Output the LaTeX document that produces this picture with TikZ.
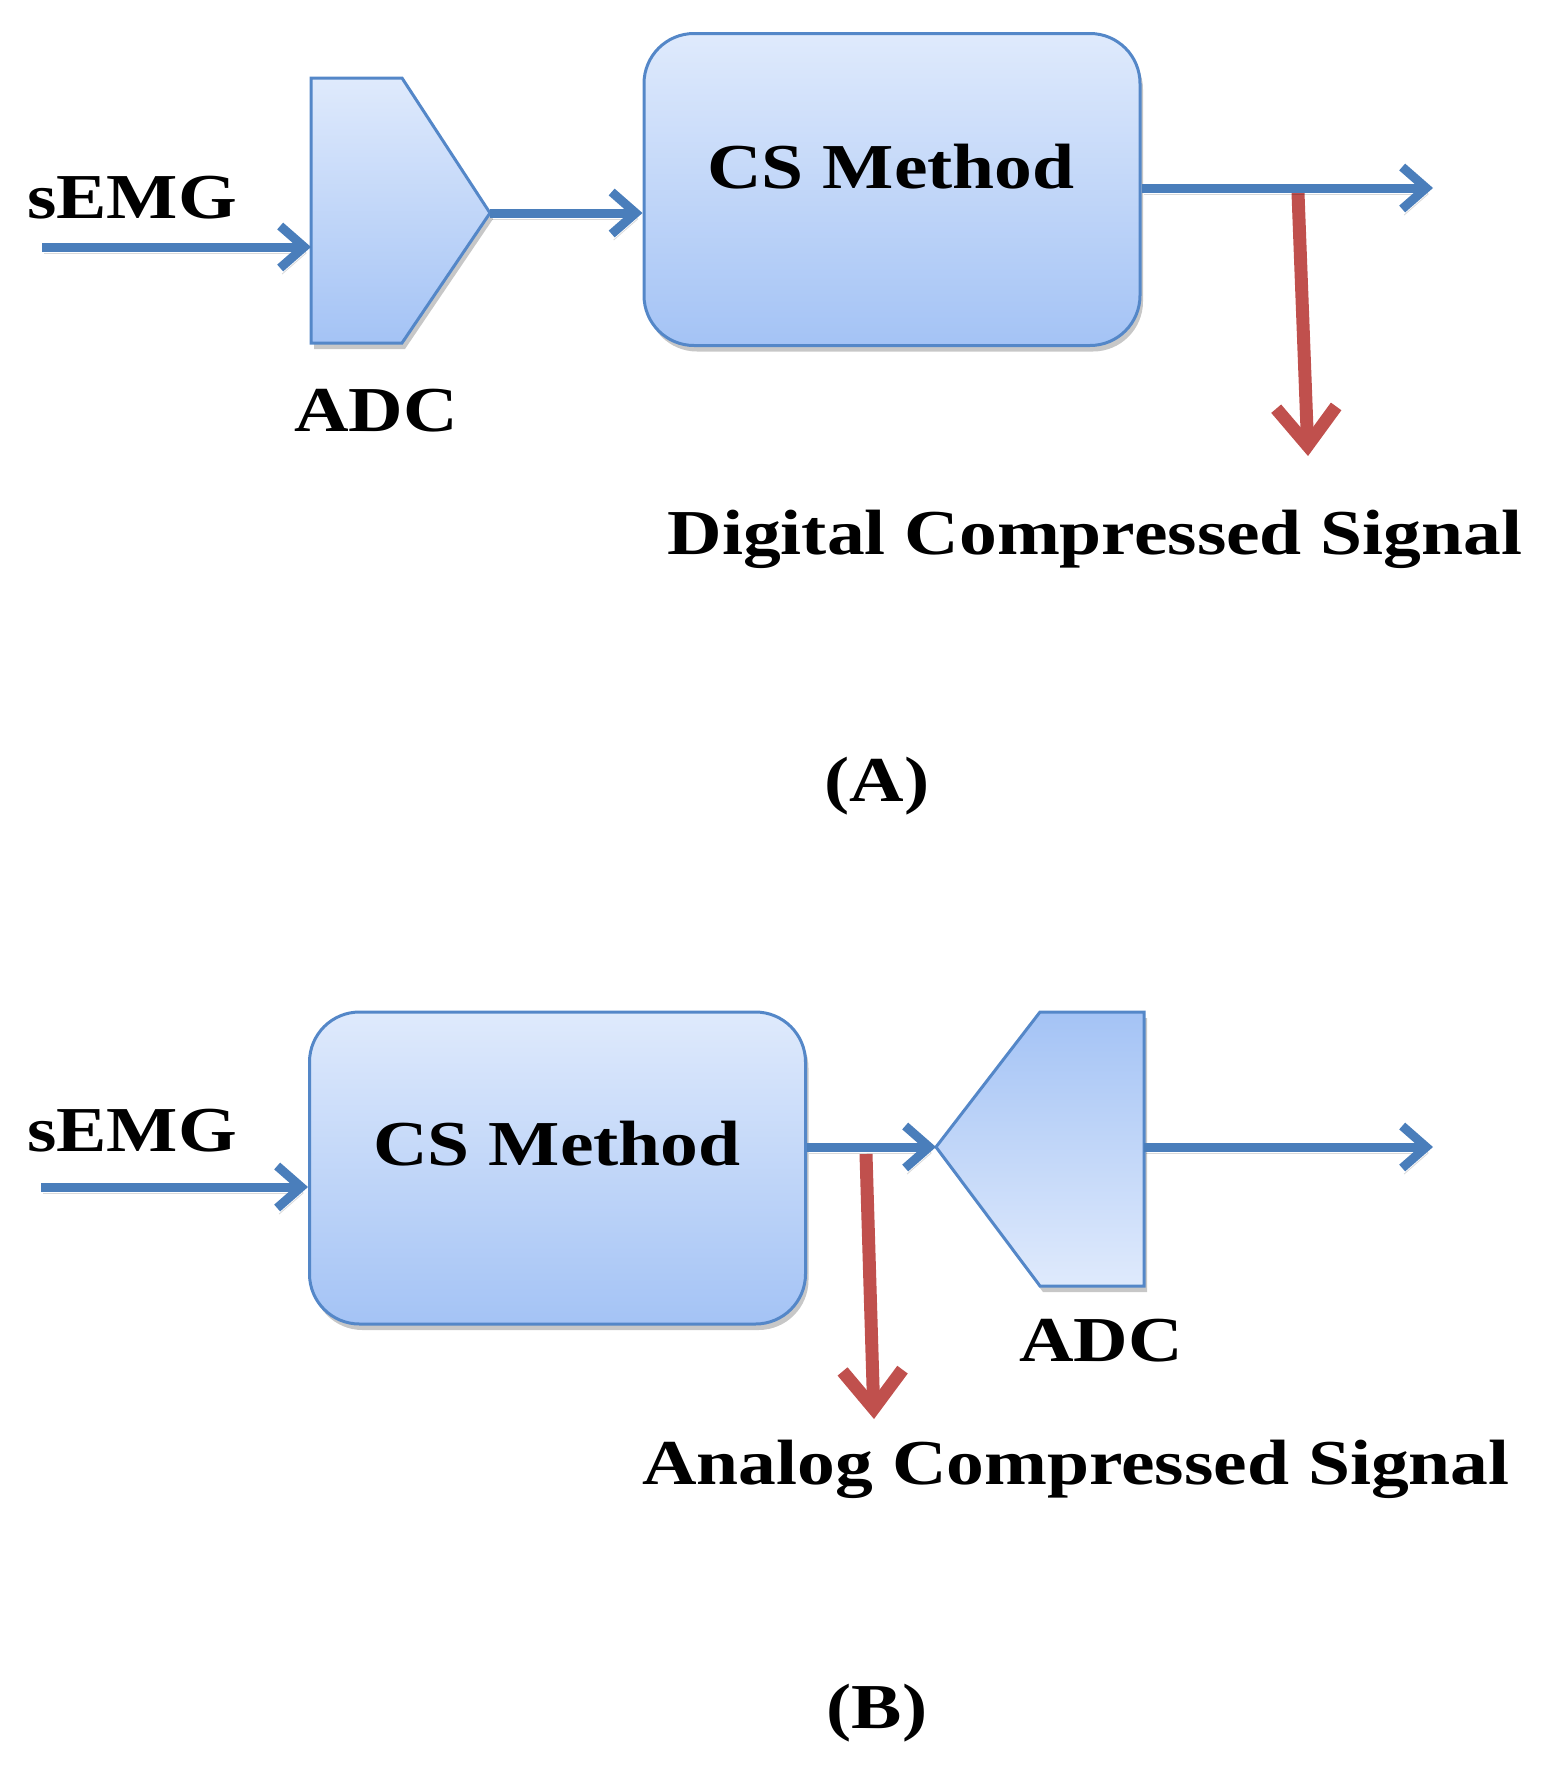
\documentclass[tikz,border=0pt]{standalone}
\usepackage{fontspec}
\setmainfont{Liberation Serif}[FakeStretch=1.18]
\usetikzlibrary{arrows.meta,shadows}
\definecolor{lineblue}{RGB}{74,126,187}
\definecolor{boxedge}{RGB}{84,135,200}
\definecolor{filltop}{RGB}{223,234,252}
\definecolor{fillbot}{RGB}{164,195,245}
\definecolor{sigred}{RGB}{192,80,77}
\begin{document}
\begin{tikzpicture}[x=0.5pt,y=-0.5pt,
  lbl/.style={font=\fontsize{32}{38}\selectfont\bfseries, inner sep=0pt, anchor=base},
  softshadow/.style={drop shadow={shadow xshift=1.5pt, shadow yshift=-3pt, opacity=0.22, fill=black}},
  csbox/.style={draw=boxedge, line width=1.5pt, rounded corners=25pt,
    top color=filltop, bottom color=fillbot, minimum width=248pt, minimum height=156pt,
    inner sep=0pt, softshadow},
  adcdown/.style={draw=boxedge, line width=1.5pt, top color=filltop, bottom color=fillbot, softshadow},
  adcup/.style={draw=boxedge, line width=1.5pt, top color=fillbot, bottom color=filltop, softshadow},
  lineshadow/.style={preaction={draw=black, opacity=0.15, transform canvas={xshift=1pt,yshift=-3pt}}},
  barrow/.style={draw=lineblue, line width=4.5pt, -{Straight Barb[length=12pt,width=21pt]}, lineshadow},
  rarrow/.style={draw=sigred, line width=6.5pt, -{Straight Barb[length=19pt,width=30pt]}, lineshadow},
]
\useasboundingbox (0,0) rectangle (1555,1768);

% ---------------- (A) ----------------
\node[lbl] (semgA) at (132,218) {sEMG};
\path[adcdown] (311,78) -- (402,78) -- (490,213) -- (402,343) -- (311,343) -- cycle;
\coordinate (adcAin) at (311,247);
\coordinate (adcAout) at (490,213);
\node[lbl] (adcAlbl) at (376,431) {ADC};
\node[csbox] (csA) at (892,189.5) {};
\node[lbl] (csAlbl) at (891,188) {CS Method};
\node[lbl] (digA) at (1095,554) {Digital Compressed Signal};
\node[lbl] (capA) at (877,801) {(A)};

\coordinate (srcA) at (42,247);
\coordinate (outA) at (1433,188);
\coordinate (tapA) at (1298,193);
\coordinate (tipA) at (1308,456);
\draw[rarrow] (tapA) -- (tipA);
\draw[barrow] (srcA) -- (adcAin);
\draw[barrow] (adcAout) -- (adcAout -| csA.west);
\draw[barrow] (csA.east |- outA) -- (outA);

% ---------------- (B) ----------------
\node[lbl] (semgB) at (132,1151) {sEMG};
\node[csbox] (csB) at (557.5,1168) {};
\node[lbl] (csBlbl) at (557,1165) {CS Method};
\path[adcup] (1144,1012) -- (1040,1012) -- (936,1147) -- (1040,1286) -- (1144,1286) -- cycle;
\coordinate (adcBin) at (936,1147);
\coordinate (adcBout) at (1144,1147);
\node[lbl] (adcBlbl) at (1101,1361) {ADC};
\node[lbl] (anaB) at (1076,1484) {Analog Compressed Signal};
\node[lbl] (capB) at (877,1728) {(B)};

\coordinate (srcB) at (41,1187);
\coordinate (outB) at (1433,1147);
\coordinate (tapB) at (866,1154);
\coordinate (tipB) at (874,1419);
\draw[rarrow] (tapB) -- (tipB);
\draw[barrow] (srcB) -- (srcB -| csB.west);
\draw[barrow] (csB.east |- adcBin) -- (adcBin);
\draw[barrow] (adcBout) -- (outB);
\end{tikzpicture}
\end{document}
